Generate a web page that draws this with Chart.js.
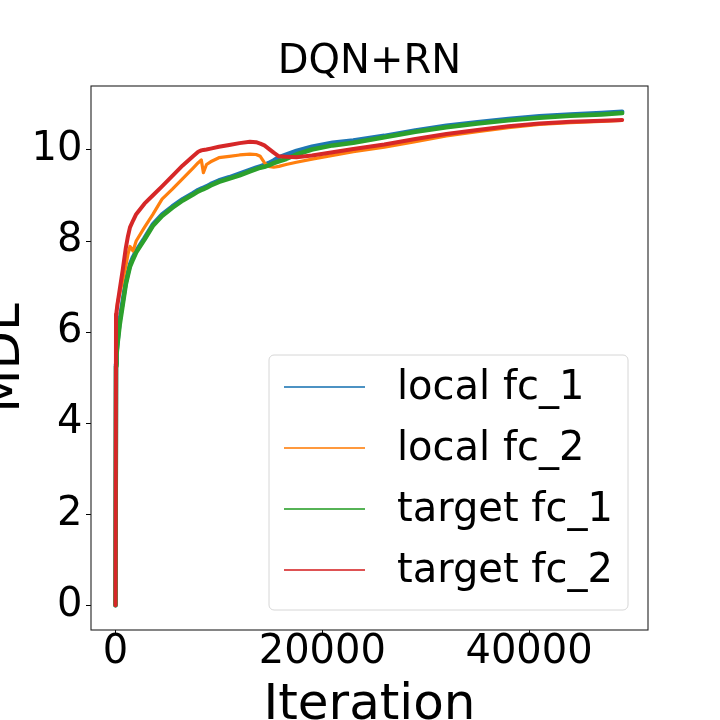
<!DOCTYPE html>
<html>
<head>
<meta charset="utf-8">
<title>DQN+RN</title>
<script src="https://cdn.jsdelivr.net/npm/chart.js@4.4.1/dist/chart.umd.min.js"></script>
<style>
    html, body { margin: 0; padding: 0; background: #fff; }
    canvas { display: block; }
</style>
</head>
<body>
<canvas id="chart" width="720" height="720"></canvas>
<script>
// Valores
const ITERATIONS = [0, 50, 100, 200, 400, 700, 1000, 1200, 1400, 1700,
    2000, 2800, 3600, 4500, 5500, 6500, 7500, 8000, 8300, 8500,
    8800, 9200, 10000, 11000, 12000, 13000, 13600, 14000, 14400, 14800,
    15300, 15800, 16500, 17500, 19000, 21000, 23000, 26000, 29000, 32000,
    35000, 38000, 41000, 44000, 47000, 49000];
const LOCAL_FC1 = [0, 5.3, 5.55, 5.8, 6.25, 6.68, 7.1, 7.3, 7.48, 7.65,
    7.78, 8.06, 8.36, 8.58, 8.76, 8.92, 9.05, 9.12, 9.15, 9.17,
    9.2, 9.25, 9.33, 9.4, 9.48, 9.56, 9.61, 9.64, 9.67, 9.71,
    9.77, 9.84, 9.9, 9.98, 10.07, 10.16, 10.21, 10.31, 10.43, 10.53,
    10.61, 10.68, 10.74, 10.78, 10.81, 10.84];
const LOCAL_FC2 = [0, 5.6, 6.45, 6.65, 6.84, 7.14, 7.45, 7.7, 7.88, 7.78,
    8.0, 8.3, 8.58, 8.92, 9.14, 9.37, 9.6, 9.72, 9.78, 9.5,
    9.68, 9.74, 9.83, 9.86, 9.89, 9.91, 9.9, 9.86, 9.72, 9.64,
    9.62, 9.64, 9.68, 9.73, 9.8, 9.88, 9.96, 10.06, 10.18, 10.31,
    10.4, 10.49, 10.56, 10.6, 10.63, 10.65];
const TARGET_FC1 = [0, 5.25, 5.5, 5.75, 6.15, 6.6, 7.05, 7.25, 7.44, 7.6,
    7.75, 8.03, 8.33, 8.55, 8.73, 8.89, 9.02, 9.09, 9.12, 9.14,
    9.17, 9.22, 9.3, 9.37, 9.44, 9.53, 9.58, 9.61, 9.63, 9.66,
    9.71, 9.75, 9.8, 9.9, 10.01, 10.1, 10.16, 10.28, 10.4, 10.5,
    10.58, 10.65, 10.71, 10.75, 10.78, 10.81];
const TARGET_FC2 = [0, 6.4, 6.45, 6.62, 6.92, 7.37, 7.85, 8.1, 8.3, 8.45,
    8.59, 8.82, 9.0, 9.2, 9.43, 9.66, 9.86, 9.96, 9.99, 10.0,
    10.01, 10.03, 10.07, 10.11, 10.15, 10.18, 10.17, 10.14, 10.1, 10.03,
    9.94, 9.86, 9.85, 9.84, 9.88, 9.95, 10.02, 10.12, 10.24, 10.35,
    10.44, 10.52, 10.58, 10.62, 10.64, 10.66];
const SERIES_LABELS = ['local fc_1', 'local fc_2', 'target fc_1', 'target fc_2'];
const X_TICKS = [0, 20000, 40000];
const Y_TICKS = [0, 2, 4, 6, 8, 10];

const FONT = 'DejaVu Sans';
const COLORS = ['#1f77b4', '#ff7f0e', '#2ca02c', '#d62728'];

function toPoints(values) {
    return ITERATIONS.map((x, i) => ({ x: x, y: values[i] }));
}

// Marco de los ejes y leyenda con borde redondeado dentro del area del grafico
const frameAndLegend = {
    id: 'frameAndLegend',
    afterDatasetsDraw(chart) {
        const ctx = chart.ctx;
        const a = chart.chartArea;
        ctx.save();
        ctx.strokeStyle = '#222';
        ctx.lineWidth = 1.1;
        ctx.strokeRect(a.left, a.top, a.right - a.left, a.bottom - a.top);

        const bx = a.left + 178, by = a.top + 269, bw = 359, bh = 255;
        ctx.beginPath();
        ctx.roundRect(bx, by, bw, bh, 5);
        ctx.fillStyle = 'rgba(255,255,255,0.8)';
        ctx.fill();
        ctx.strokeStyle = '#d6d6d6';
        ctx.lineWidth = 1;
        ctx.stroke();

        ctx.font = '40px "' + FONT + '"';
        ctx.textBaseline = 'middle';
        ctx.textAlign = 'left';
        chart.data.datasets.forEach((ds, i) => {
            const y = by + 32 + i * 61;
            ctx.globalAlpha = 0.8;
            ctx.strokeStyle = ds.borderColor;
            ctx.lineWidth = 2;
            ctx.beginPath();
            ctx.moveTo(bx + 15, y);
            ctx.lineTo(bx + 96, y);
            ctx.stroke();
            ctx.globalAlpha = 1;
            ctx.fillStyle = '#000';
            ctx.fillText(ds.label, bx + 128, y + 1.5);
        });
        ctx.restore();
    }
};

const CONTEXT = document.getElementById('chart').getContext('2d');
const CHART = new Chart(CONTEXT, {
    type: 'line',
    data: {
        datasets: [
            { label: SERIES_LABELS[0], data: toPoints(LOCAL_FC1), borderColor: COLORS[0], borderWidth: 4.5, order: 3 },
            { label: SERIES_LABELS[1], data: toPoints(LOCAL_FC2), borderColor: COLORS[1], borderWidth: 3.2, order: 2 },
            { label: SERIES_LABELS[2], data: toPoints(TARGET_FC1), borderColor: COLORS[2], borderWidth: 4.5, order: 1 },
            { label: SERIES_LABELS[3], data: toPoints(TARGET_FC2), borderColor: COLORS[3], borderWidth: 4, order: 0 }
        ]
    },
    options: {
        responsive: false,
        devicePixelRatio: 1,
        animation: false,
        layout: { padding: { left: 0, top: 0, right: 72, bottom: 0 } },
        elements: {
            point: { radius: 0 },
            line: { tension: 0, borderJoinStyle: 'round', borderCapStyle: 'round' }
        },
        plugins: {
            legend: { display: false },
            tooltip: { enabled: false },
            title: {
                display: true,
                fullSize: false,
                text: 'DQN+RN',
                color: '#000',
                font: { family: FONT, size: 40, weight: 'normal', lineHeight: 1.2 },
                padding: { top: 38.5, bottom: -0.5 }
            }
        },
        scales: {
            x: {
                type: 'linear',
                min: -2370,
                max: 51500,
                afterBuildTicks: (scale) => { scale.ticks = X_TICKS.map(v => ({ value: v })); },
                afterFit: (scale) => { scale.height = 90; },
                ticks: {
                    color: '#000',
                    font: { family: FONT, size: 40, lineHeight: 1 },
                    padding: -2,
                    maxRotation: 0,
                    autoSkip: false,
                    callback: (value) => String(value)
                },
                grid: { drawOnChartArea: false, drawTicks: true, tickLength: 5, color: '#000', lineWidth: 1 },
                border: { display: false },
                title: {
                    display: true,
                    text: 'Iteration',
                    color: '#000',
                    font: { family: FONT, size: 50, lineHeight: 1 },
                    padding: { top: 0, bottom: -11 }
                }
            },
            y: {
                type: 'linear',
                min: -0.545,
                max: 11.405,
                afterBuildTicks: (scale) => { scale.ticks = Y_TICKS.map(v => ({ value: v })); },
                afterFit: (scale) => { scale.width = 91; },
                ticks: {
                    color: '#000',
                    font: { family: FONT, size: 40, lineHeight: 1 },
                    padding: 3.5,
                    autoSkip: false,
                    callback: (value) => String(value)
                },
                grid: { drawOnChartArea: false, drawTicks: true, tickLength: 5, color: '#000', lineWidth: 1 },
                border: { display: false },
                title: {
                    display: true,
                    text: 'MDL',
                    color: '#000',
                    font: { family: FONT, size: 50, lineHeight: 1 },
                    padding: { top: -19, bottom: 0 }
                }
            }
        }
    },
    plugins: [frameAndLegend]
});
</script>
</body>
</html>
